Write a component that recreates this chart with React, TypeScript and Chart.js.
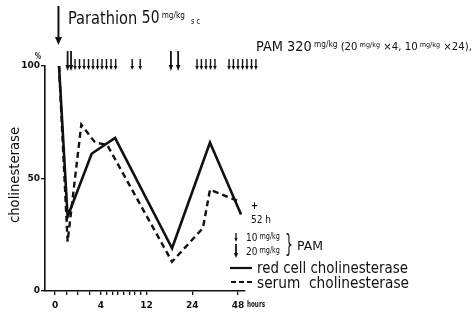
import React, { useEffect, useRef } from "react";
import { Chart, registerables } from "chart.js";

Chart.register(...registerables);

// ---- data ----
const majorTickHours = [0, 4, 12, 24, 48];
const majorTickLabels = ["0", "4", "12", "24", "48"];
const minorTickHours = [1, 2, 3, 5, 6, 7, 8, 9, 10, 11];
const yTickValues = [0, 50, 100];

const redCellHours = [0.35, 1.1, 3.2, 6.5, 18.7, 33.3, 49.6];
const redCellValues = [100, 33, 61, 68, 19, 66, 34];
const serumHours = [0.35, 1.1, 2.3, 3.5, 5.1, 18.7, 29.6, 33.3, 48];
const serumValues = [100, 22, 74, 66, 65, 13, 28, 45, 40];

const parathionHour = 0.3;
const pam20Hours = [1.1, 1.4, 18.4, 20.3];
const pam10Hours = [
  1.75, 2.14, 2.54, 2.93, 3.32, 3.72, 4.22, 5.0, 5.8, 6.6, 9.5, 10.9,
  26.5, 28.8, 31.2, 33.6, 35.9,
  43.3, 45.6, 48.0, 50.4, 52.7, 55.1, 57.4,
];

// piecewise axis: each interval between major ticks takes one unit
function hourToAxis(h: number): number {
  const t = majorTickHours;
  for (let i = 0; i < t.length - 1; i++) {
    if (h <= t[i + 1]) return i + (h - t[i]) / (t[i + 1] - t[i]);
  }
  const n = t.length - 1;
  return n + (h - t[n]) / (t[n] - t[n - 1]);
}

const allTickHours = [...majorTickHours, ...minorTickHours].sort((a, b) => a - b);

const FONT = '"DejaVu Sans Condensed", "DejaVu Sans", sans-serif';
type Piece = [string, number, number?, string?];

function run(ctx: CanvasRenderingContext2D, x: number, y: number, pieces: Piece[], width?: number) {
  ctx.save();
  ctx.textBaseline = "middle";
  ctx.textAlign = "left";
  let natural = 0;
  for (const [s, size, , w] of pieces) {
    ctx.font = `${w || "normal"} ${size}px ${FONT}`;
    natural += ctx.measureText(s).width;
  }
  const sx = width ? width / natural : 1;
  ctx.translate(x, y);
  ctx.scale(sx, 1);
  let cx = 0;
  for (const [s, size, dy, w] of pieces) {
    ctx.font = `${w || "normal"} ${size}px ${FONT}`;
    ctx.fillText(s, cx, dy || 0);
    cx += ctx.measureText(s).width;
  }
  ctx.restore();
}

function arrow(ctx: CanvasRenderingContext2D, x: number, y1: number, y2: number, lw: number, hw: number, hl: number) {
  ctx.save();
  ctx.lineWidth = lw;
  ctx.beginPath();
  ctx.moveTo(x, y1);
  ctx.lineTo(x, y2 - hl + 1);
  ctx.stroke();
  ctx.beginPath();
  ctx.moveTo(x - hw, y2 - hl);
  ctx.lineTo(x + hw, y2 - hl);
  ctx.lineTo(x, y2);
  ctx.closePath();
  ctx.fill();
  ctx.restore();
}

const annotations = {
  id: "annotations",
  afterDraw(chart: any) {
    const ctx: CanvasRenderingContext2D = chart.ctx;
    const xs = chart.scales.x;
    const px = (h: number) => xs.getPixelForValue(hourToAxis(h));
    ctx.save();
    ctx.fillStyle = "#111";
    ctx.strokeStyle = "#111";

    // Parathion injection
    arrow(ctx, px(parathionHour), 6, 45, 2, 3.5, 8);
    run(ctx, 68, 19, [["Parathion ", 18], ["50", 17], [" mg/kg", 9, -3], ["   s c", 8, 3]], 132);

    // PAM doses
    for (const h of pam20Hours) arrow(ctx, px(h), 51, 71, 1.8, 2.2, 6);
    for (const h of pam10Hours) arrow(ctx, px(h), 59, 70, 1.4, 1.8, 4);
    run(ctx, 256, 47, [
      ["PAM 320", 14], [" mg/kg", 8, -2], [" (20", 11], [" mg/kg", 7, -2],
      [" ×4, 10", 11], [" mg/kg", 7, -2], [" ×24),", 11],
    ], 216);

    // 52 h note
    run(ctx, 251, 206, [["+", 11, 0, "bold"]], 7);
    run(ctx, 251, 220, [["52 h", 10]], 20);

    // dose key
    arrow(ctx, 236, 233, 242, 1.3, 1.6, 4);
    arrow(ctx, 236, 244, 258, 1.8, 2.2, 5);
    run(ctx, 246, 238, [["10", 11], [" mg/kg", 8, -1]], 34);
    run(ctx, 246, 252, [["20", 11], [" mg/kg", 8, -1]], 34);
    run(ctx, 285, 246, [["}", 24]], 8);
    run(ctx, 297, 247, [["PAM", 12]], 26);

    // line key
    ctx.lineWidth = 2.2;
    ctx.beginPath();
    ctx.moveTo(230, 268);
    ctx.lineTo(252, 268);
    ctx.stroke();
    ctx.setLineDash([5, 3]);
    ctx.beginPath();
    ctx.moveTo(231, 282);
    ctx.lineTo(255, 282);
    ctx.stroke();
    ctx.setLineDash([]);
    run(ctx, 257, 269, [["red cell cholinesterase", 15]], 151);
    run(ctx, 257, 284, [["serum  cholinesterase", 15]], 152);

    // axis labels
    run(ctx, 35, 57, [["%", 8, 0, "bold"]], 6);
    run(ctx, 247, 305, [["hours", 8, 0, "bold"]], 18);
    ctx.save();
    ctx.translate(15, 175);
    ctx.rotate(-Math.PI / 2);
    run(ctx, -48, 0, [["cholinesterase", 14]], 96);
    ctx.restore();

    ctx.restore();
  },
};

export default function App() {
  const ref = useRef<HTMLCanvasElement | null>(null);
  useEffect(() => {
    if (!ref.current) return;
    const chart = new Chart(ref.current, {
      type: "line",
      data: {
        datasets: [
          {
            label: "red cell cholinesterase",
            data: redCellHours.map((h, i) => ({ x: hourToAxis(h), y: redCellValues[i] })),
            borderColor: "#111",
            borderWidth: 2.6,
            pointRadius: 0,
            tension: 0,
            fill: false,
          },
          {
            label: "serum cholinesterase",
            data: serumHours.map((h, i) => ({ x: hourToAxis(h), y: serumValues[i] })),
            borderColor: "#111",
            borderWidth: 2.4,
            borderDash: [6, 4],
            pointRadius: 0,
            tension: 0,
            fill: false,
          },
        ],
      },
      options: {
        animation: false,
        responsive: false,
        events: [],
        layout: { padding: { left: 0, top: 66, right: 231, bottom: 0 } },
        plugins: { legend: { display: false }, tooltip: { enabled: false } },
        scales: {
          x: {
            type: "linear",
            min: -0.219,
            max: 4.153,
            afterBuildTicks: (scale: any) => {
              scale.ticks = allTickHours.map((h) => ({ value: hourToAxis(h) }));
            },
            afterFit: (scale: any) => {
              scale.height = 25;
            },
            ticks: {
              autoSkip: false,
              maxRotation: 0,
              padding: 5,
              color: "#111",
              font: { family: "DejaVu Sans", size: 9, weight: "bold" },
              callback: (_v: any, i: number) => {
                const h = allTickHours[i];
                const k = majorTickHours.indexOf(h);
                return k >= 0 ? majorTickLabels[k] : "";
              },
            },
            grid: { drawOnChartArea: false, drawTicks: true, tickLength: 4, color: "#111", lineWidth: 1.3 },
            border: { display: true, color: "#111", width: 1.6 },
          },
          y: {
            type: "linear",
            min: 0,
            max: 100,
            afterBuildTicks: (scale: any) => {
              scale.ticks = yTickValues.map((v) => ({ value: v }));
            },
            afterFit: (scale: any) => {
              scale.width = 45;
            },
            ticks: {
              padding: 1,
              color: "#111",
              font: { family: "DejaVu Sans", size: 9, weight: "bold" },
            },
            grid: { drawOnChartArea: false, drawTicks: true, tickLength: 4, color: "#111", lineWidth: 1.3 },
            border: { display: true, color: "#111", width: 1.6 },
          },
        },
      },
      plugins: [annotations],
    } as any);
    return () => chart.destroy();
  }, []);
  return (
    <div style={{ position: "fixed", left: 0, top: 0, width: 476, height: 316, background: "#fff" }}>
      <canvas ref={ref} width={476} height={316} style={{ display: "block" }} />
    </div>
  );
}
